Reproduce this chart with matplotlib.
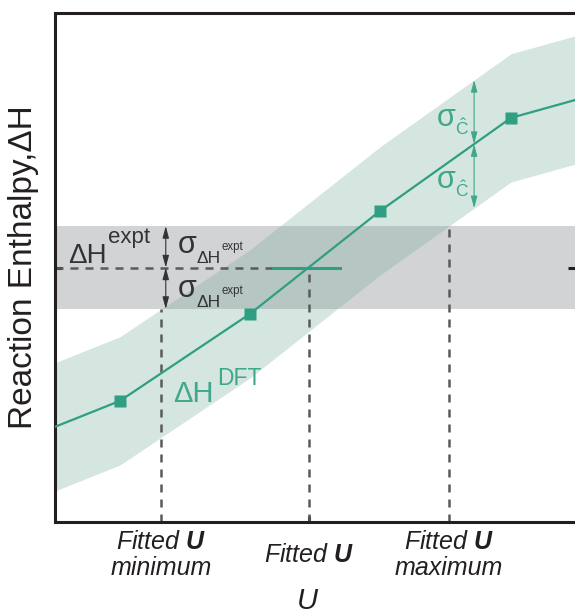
#!/usr/bin/env python3
"""
Schematic: fitting U by matching DFT reaction enthalpies to experiment.
"""

import numpy as np
import matplotlib.pyplot as plt

# DFT reaction enthalpy vs U (schematic units)
U_line = [0.0, 1.25, 3.75, 6.25, 8.77, 10.0]
dH_line = [1.87, 2.38, 4.09, 6.11, 7.94, 8.29]
U_pts = [1.25, 3.75, 6.25, 8.77]
dH_pts = [2.38, 4.09, 6.11, 7.94]
SIGMA_C = 1.26          # half width of the DFT error band

# experimental value and its uncertainty
DH_EXPT = 5.0
SIGMA_EXPT = 0.815

# short green marker on the expt line around the fitted U
FIT_SEG = [4.19, 5.48]

# where the two uncertainty arrows are drawn
U_ARROW_EXPT = 2.13
U_ARROW_DFT = 8.06

TICK_TEXT = ['Fitted $\\mathbf{U}$\nminimum', 'Fitted $\\mathbf{U}$',
             'Fitted $\\mathbf{U}$\nmaximum']

INK = '#231f20'
GRAY_TXT = '#333333'
DASH = '#5a5a5a'
GREEN = '#2f9e82'
GREEN_TXT = '#3fa88b'
BAND = (118 / 255, 172 / 255, 155 / 255)
EXPT_BAND = '#d2d3d5'

plt.rcParams['font.family'] = ['Liberation Sans', 'DejaVu Sans']
plt.rcParams['mathtext.fontset'] = 'custom'
plt.rcParams['mathtext.rm'] = 'Liberation Sans'
plt.rcParams['mathtext.it'] = 'Liberation Sans:italic'
plt.rcParams['mathtext.bf'] = 'Liberation Sans:italic:bold'

U_line = np.array(U_line)
dH_line = np.array(dH_line)

# fitted U values: where the curve (and its band edges) meet the expt band
u_fit = np.interp(DH_EXPT, dH_line, U_line)
u_min = np.interp(DH_EXPT - SIGMA_EXPT, dH_line + SIGMA_C, U_line)
u_max = np.interp(DH_EXPT + SIGMA_EXPT, dH_line - SIGMA_C, U_line)

fig = plt.figure(figsize=(5.75, 6.15), dpi=100)
ax = fig.add_axes([55 / 575, 93 / 615, 520 / 575, 509 / 615])
ax.set_xlim(0, 10)
ax.set_ylim(0, 10)

# bands
ax.axhspan(DH_EXPT - SIGMA_EXPT, DH_EXPT + SIGMA_EXPT, color=EXPT_BAND, lw=0, zorder=0)
ax.fill_between(U_line, dH_line - SIGMA_C, dH_line + SIGMA_C,
                color=BAND, alpha=0.3, lw=0, zorder=1)

# dashed guide lines
dash_kw = dict(color=DASH, lw=1.8, linestyle=(0, (3.2, 2.8)), zorder=2)
ax.plot([0, FIT_SEG[0]], [DH_EXPT, DH_EXPT], **dash_kw)
ax.plot([u_min, u_min], [0, DH_EXPT - SIGMA_EXPT], **dash_kw)
ax.plot([u_fit, u_fit], [0, DH_EXPT], **dash_kw)
ax.plot([u_max, u_max], [0, DH_EXPT + SIGMA_EXPT], **dash_kw)

# DFT curve
ax.plot(U_line, dH_line, color=GREEN, lw=1.6, zorder=3)
ax.plot(U_pts, dH_pts, 's', color=GREEN, ms=8, mec='none', zorder=4)
ax.plot(FIT_SEG, [DH_EXPT, DH_EXPT], color=GREEN, lw=2.2, zorder=3)

# uncertainty arrows
arr = '<|-|>,head_length=0.6,head_width=0.16'
for lo, hi in [(DH_EXPT, DH_EXPT + SIGMA_EXPT), (DH_EXPT - SIGMA_EXPT, DH_EXPT)]:
    ax.annotate('', xy=(U_ARROW_EXPT, hi), xytext=(U_ARROW_EXPT, lo),
                arrowprops=dict(arrowstyle=arr, color=GRAY_TXT, lw=0.8,
                                shrinkA=0, shrinkB=0, mutation_scale=12), zorder=5)
y_mid = np.interp(U_ARROW_DFT, U_line, dH_line)
for lo, hi in [(y_mid, y_mid + SIGMA_C), (y_mid - SIGMA_C, y_mid)]:
    ax.annotate('', xy=(U_ARROW_DFT, hi), xytext=(U_ARROW_DFT, lo),
                arrowprops=dict(arrowstyle=arr, color=GREEN_TXT, lw=0.8,
                                shrinkA=0, shrinkB=0, mutation_scale=12), zorder=5)


def piece(s, x, y, dx, dy, size, color):
    ax.annotate(s, (x, y), xytext=(dx, dy), textcoords='offset points',
                fontsize=size, color=color, ha='left', va='baseline', zorder=6)


# Delta H^expt
piece('\u0394H', 0.25, 5.09, 0, 0, 20, GRAY_TXT)
piece('expt', 0.25, 5.09, 28.5, 14.5, 16, GRAY_TXT)

# sigma_{Delta H^expt}, above and below
for yb in [5.28, 4.42]:
    piece('\u03c3', 2.36, yb, 0, 0, 22, GRAY_TXT)
    piece('\u0394H', 2.36, yb, 13.7, -7.2, 12.5, GRAY_TXT)
    piece('expt', 2.36, yb, 31.8, 2.0, 8.3, GRAY_TXT)

# sigma_C-hat, above and below the curve
for yb in [7.78, 6.56]:
    piece('\u03c3', 7.35, yb, 0, 0, 22, GREEN_TXT)
    piece(r'$\hat{\mathrm{C}}$', 7.35, yb, 13.0, -6.5, 12.5, GREEN_TXT)

# Delta H^DFT
piece('\u0394H', 2.27, 2.36, 0, 0, 21, GREEN_TXT)
piece('DFT', 2.27, 2.36, 31.5, 12.0, 16.5, GREEN_TXT)

# axes frame and ticks
for side in ['left', 'bottom', 'top']:
    ax.spines[side].set_linewidth(2.2)
    ax.spines[side].set_color(INK)
ax.spines['right'].set_visible(False)

ax.set_yticks([DH_EXPT])
ax.set_yticklabels([])
ax.tick_params(axis='y', direction='in', length=5, width=2.2, color=INK,
               left=True, right=True)

ax.set_xticks([u_min, u_fit, u_max])
ax.set_xticklabels(TICK_TEXT, fontsize=18, style='italic', color=INK,
                   linespacing=1.12)
ax.tick_params(axis='x', direction='in', length=4, width=2.2, color=INK, pad=24)
for lbl in ax.get_xticklabels():
    lbl.set_verticalalignment('center')
    lbl.set_multialignment('center')
ticks = ax.xaxis.get_major_ticks()
ticks[0].tick1line.set_visible(False)
ticks[2].tick1line.set_visible(False)

ax.set_xlabel('U', fontsize=21, style='italic', color=INK)
ax.xaxis.set_label_coords(0.485, -0.1825)
ax.xaxis.label.set_verticalalignment('bottom')
ax.set_ylabel('Reaction Enthalpy,\u0394H', fontsize=24, color=INK)
ax.yaxis.set_label_coords(-0.031, 0.5)

fig.savefig('out.png', dpi=100)
